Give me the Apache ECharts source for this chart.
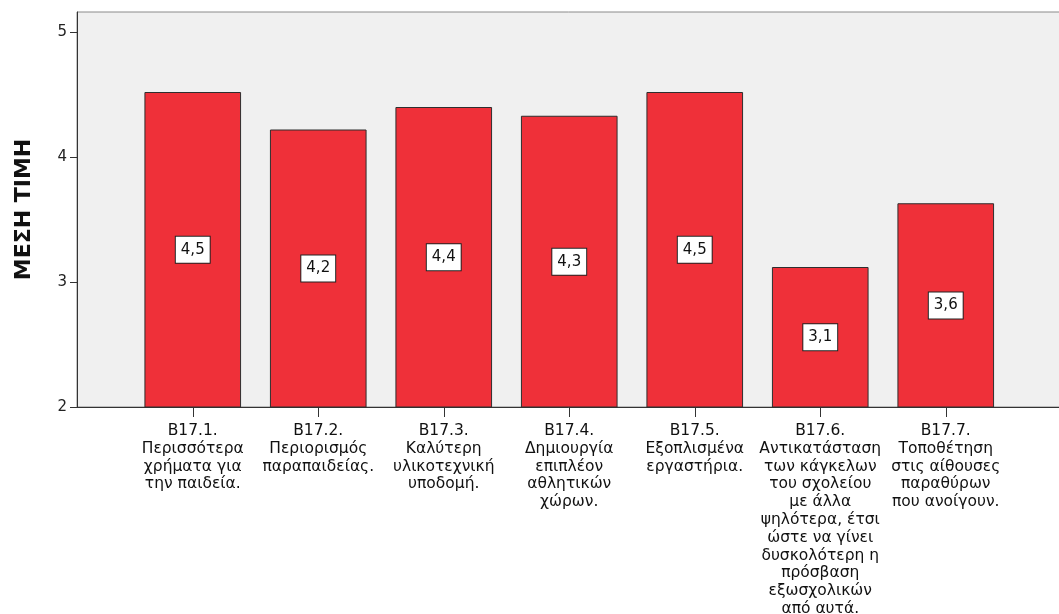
<!DOCTYPE html>
<html>
<head>
<meta charset="utf-8">
<script src="https://cdn.jsdelivr.net/npm/echarts@6/dist/echarts.min.js"></script>
<style>
html,body{margin:0;padding:0;background:#fff;}
#c{width:1059px;height:614px;}
</style>
</head>
<body>
<div id="c"></div>
<script>
const categories = [
  "B17.1.\nΠερισσότερα\nχρήματα για\nτην παιδεία.",
  "B17.2.\nΠεριορισμός\nπαραπαιδείας.",
  "B17.3.\nΚαλύτερη\nυλικοτεχνική\nυποδομή.",
  "B17.4.\nΔημιουργία\nεπιπλέον\nαθλητικών\nχώρων.",
  "B17.5.\nΕξοπλισμένα\nεργαστήρια.",
  "B17.6.\nΑντικατάσταση\nτων κάγκελων\nτου σχολείου\nμε άλλα\nψηλότερα, έτσι\nώστε να γίνει\nδυσκολότερη η\nπρόσβαση\nεξωσχολικών\nαπό αυτά.",
  "B17.7.\nΤοποθέτηση\nστις αίθουσες\nπαραθύρων\nπου ανοίγουν."
];
const meanValues = [4.52, 4.22, 4.40, 4.33, 4.52, 3.12, 3.63];
const yTicks = [2, 3, 4, 5];
const yAxisName = "ΜΕΣΗ ΤΙΜΗ";

const chart = echarts.init(document.getElementById('c'), null, {renderer: 'canvas'});
const font = "DejaVu Sans";
chart.setOption({
  animation: false,
  backgroundColor: '#ffffff',
  grid: [
    {left: 77, top: 12, right: -10, bottom: 207, outerBoundsMode: 'none', containLabel: false, show: true, backgroundColor: '#f0f0f0', borderColor: '#8a8a8a', borderWidth: 1},
    {left: 130, top: 12, right: 50.5, bottom: 207, outerBoundsMode: 'none', containLabel: false}
  ],
  xAxis: [
    {gridIndex: 0, type: 'value', min: 0, max: 1, axisLine: {show: true, onZero: false, lineStyle: {color: '#333', width: 1}}, axisTick: {show: false}, axisLabel: {show: false}, splitLine: {show: false}},
    {gridIndex: 1, type: 'category', data: categories, axisLine: {show: false},
     axisTick: {show: true, alignWithLabel: true, length: 10, lineStyle: {color: '#333'}},
     axisLabel: {interval: 0, margin: 15, color: '#111', fontFamily: font, fontSize: 15.5, lineHeight: 17.8, align: 'center'}}
  ],
  yAxis: [
    {gridIndex: 0, type: 'value', min: 2, max: 5.16,
     name: yAxisName, nameLocation: 'middle', nameGap: 42, nameRotate: 90,
     nameTextStyle: {fontFamily: font, fontWeight: 'bold', fontSize: 22, color: '#111'},
     axisLine: {show: true, lineStyle: {color: '#333', width: 1}},
     axisTick: {show: true, length: 7, customValues: yTicks, lineStyle: {color: '#333'}},
     axisLabel: {customValues: yTicks, color: '#222', fontFamily: font, fontSize: 15, margin: 10},
     splitLine: {show: false}},
    {gridIndex: 1, type: 'value', min: 2, max: 5.16, show: false, splitLine: {show: false}}
  ],
  series: [{
    type: 'bar', xAxisIndex: 1, yAxisIndex: 1, data: meanValues, barWidth: '77%',
    itemStyle: {color: '#ef3039', borderColor: '#2e2e2e', borderWidth: 1},
    label: {show: true, position: 'inside', formatter: p => p.value.toFixed(1).replace('.', ','),
      color: '#111', fontFamily: font, fontSize: 15, backgroundColor: '#fff', borderColor: '#222', borderWidth: 1, padding: [6, 5, 5, 5]}
  }]
});
</script>
</body>
</html>
